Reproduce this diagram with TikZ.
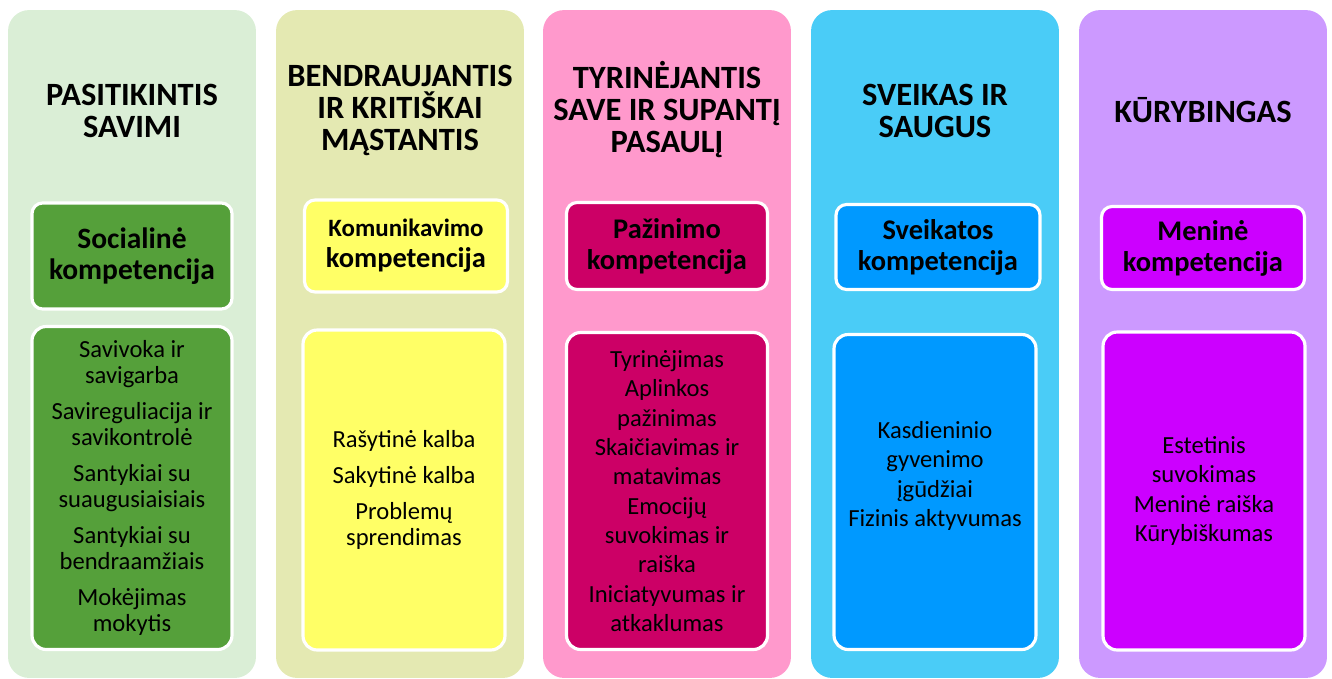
\documentclass[tikz,border=0pt]{standalone}
\usepackage{fontspec}
\setmainfont{Carlito}
\usepackage{xcolor}
\usepackage{tikz}

\definecolor{greenbg}{HTML}{DAEED6}
\definecolor{greenbox}{HTML}{55A03A}
\definecolor{olivebg}{HTML}{E4E9B2}
\definecolor{yellowbox}{HTML}{FFFF66}
\definecolor{pinkbg}{HTML}{FF99CC}
\definecolor{pinkbox}{HTML}{CC0066}
\definecolor{bluebg}{HTML}{4ACCF7}
\definecolor{bluebox}{HTML}{0099FF}
\definecolor{violetbg}{HTML}{CC99FF}
\definecolor{violetbox}{HTML}{CC00FF}

\begin{document}
\begin{tikzpicture}[x=0.02cm, y=-0.02cm,
    column/.style={rectangle, rounded corners=12pt, minimum width=4.96cm, minimum height=13.36cm, inner sep=0pt},
    title/.style={align=center, font=\bfseries\fontsize{18.5}{18.2}\selectfont},
    headbox/.style={rectangle, draw=white, line width=1.8pt, rounded corners=6pt, inner sep=0pt, align=center, font=\bfseries\fontsize{16.2}{17.6}\selectfont},
    itembox/.style={rectangle, draw=white, line width=1.8pt, rounded corners=8pt, inner sep=0pt, minimum width=4cm},
    itemlist/.style={align=center, font=\fontsize{14}{16.7}\selectfont},
    pairlist/.style={align=center, font=\fontsize{14}{14.8}\selectfont}]
    \useasboundingbox (0,0) rectangle (1332,679);

    % Columns
    \node[column, fill=greenbg] (col1) at (132,344) {};
    \node[column, fill=olivebg] (col2) at (400,344) {};
    \node[column, fill=pinkbg] (col3) at (667,344) {};
    \node[column, fill=bluebg] (col4) at (935,344) {};
    \node[column, fill=violetbg] (col5) at (1203,344) {};

    % Titles
    \node[title] (pasitikintis) at (132,111) {PASITIKINTIS\\SAVIMI};
    \node[title] (bendraujantis) at (400,110) {BENDRAUJANTIS\\IR KRITIŠKAI\\MĄSTANTIS};
    \node[title] (tyrinejantis) at (667,110) {TYRINĖJANTIS\\SAVE IR SUPANTĮ\\PASAULĮ};
    \node[title] (sveikas) at (935,111) {SVEIKAS IR\\SAUGUS};
    \node[title] (kurybingas) at (1203,110) {KŪRYBINGAS};

    % Competences
    \node[headbox, fill=greenbox, minimum width=4cm, minimum height=2.12cm, font=\bfseries\fontsize{16.8}{17.6}\selectfont] (socialine) at (132,256) {Socialinė\\kompetencija};
    \node[headbox, fill=yellowbox, minimum width=4.06cm, minimum height=1.84cm] (komunikavimo) at (406,246) {{\fontsize{14.2}{15}\selectfont Komunikavimo}\\kompetencija};
    \node[headbox, fill=pinkbox, minimum width=4.02cm, minimum height=1.74cm] (pazinimo) at (667,246) {Pažinimo\\kompetencija};
    \node[headbox, fill=bluebox, minimum width=4.08cm, minimum height=1.7cm] (sveikatos) at (938,247) {Sveikatos\\kompetencija};
    \node[headbox, fill=violetbox, minimum width=4.06cm, minimum height=1.66cm] (menine) at (1203,248) {Meninė\\kompetencija};

    % Item boxes
    \node[itembox, fill=greenbox, minimum height=6.46cm] (socItems) at (132,488) {};
    \node[itembox, fill=yellowbox, minimum width=4.04cm, minimum height=6.4cm] (komItems) at (404,490) {};
    \node[itembox, fill=pinkbox, minimum width=4.02cm, minimum height=6.34cm] (pazItems) at (667,491) {};
    \node[itembox, fill=bluebox, minimum width=4.04cm, minimum height=6.3cm] (sveItems) at (935,492) {};
    \node[itembox, fill=violetbox, minimum width=4.04cm, minimum height=6.36cm] (menItems) at (1204,491) {};

    % Item lists
    \node[pairlist] (socList) at (socItems.center) {Savivoka ir\\savigarba\\[5.7pt]Savireguliacija ir\\savikontrolė\\[5.7pt]Santykiai su\\suaugusiaisiais\\[5.7pt]Santykiai su\\bendraamžiais\\[5.7pt]Mokėjimas\\mokytis};
    \node[pairlist] (komList) at (komItems.center) {Rašytinė kalba\\[5.7pt]Sakytinė kalba\\[5.7pt]Problemų\\sprendimas};
    \node[itemlist] (pazList) at (pazItems.center) {Tyrinėjimas\\Aplinkos\\pažinimas\\Skaičiavimas ir\\matavimas\\Emocijų\\suvokimas ir\\raiška\\Iniciatyvumas ir\\atkaklumas};
    \node[itemlist] (sveList) at (935,476) {Kasdieninio\\gyvenimo\\įgūdžiai\\Fizinis aktyvumas};
    \node[itemlist] (menList) at (menItems.center) {Estetinis\\suvokimas\\Meninė raiška\\Kūrybiškumas};
\end{tikzpicture}
\end{document}
